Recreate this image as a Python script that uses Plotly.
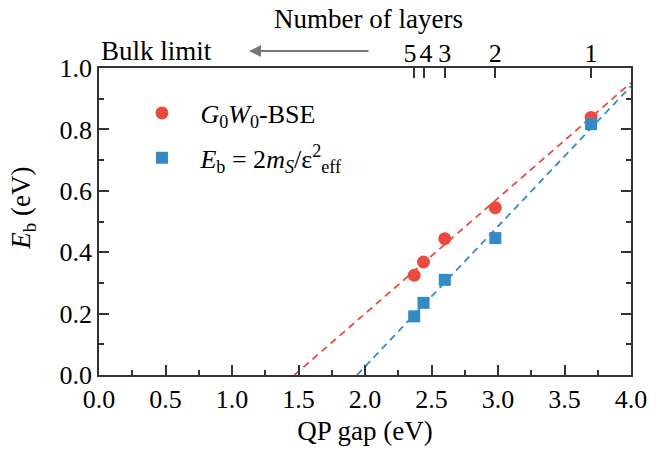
import plotly.graph_objects as go

# Quasiparticle gaps (eV) for 1-5 layers
qp_gap = [2.37, 2.44, 2.60, 2.98, 3.70]
layers = ["5", "4", "3", "2", "1"]

# Exciton binding energies (eV)
eb_bse = [0.325, 0.368, 0.444, 0.545, 0.839]
eb_model = [0.191, 0.235, 0.310, 0.446, 0.817]

# Linear trends extrapolated to zero binding energy
bse_fit_x = [1.469, 4.0]
bse_fit_y = [0.0, 0.952]
model_fit_x = [1.94, 4.0]
model_fit_y = [0.0, 0.941]

RED = "#EA4B3F"
BLUE = "#328BC4"
AXIS = "#333333"
FONT = "Times New Roman, Liberation Serif, serif"

fig = go.Figure()

fig.add_trace(go.Scatter(x=bse_fit_x, y=bse_fit_y, mode="lines",
                         line=dict(color=RED, width=1.8, dash="7px,5px"),
                         showlegend=False, hoverinfo="skip"))
fig.add_trace(go.Scatter(x=model_fit_x, y=model_fit_y, mode="lines",
                         line=dict(color=BLUE, width=1.8, dash="7px,5px"),
                         showlegend=False, hoverinfo="skip"))

fig.add_trace(go.Scatter(x=qp_gap, y=eb_bse, mode="markers",
                         marker=dict(symbol="circle", size=13, color=RED),
                         name="<i>G</i><sub>0</sub><i>W</i><sub>0</sub>-BSE",
                         legendgroup="a"))
fig.add_trace(go.Scatter(x=qp_gap, y=eb_model, mode="markers",
                         marker=dict(symbol="square", size=12, color=BLUE),
                         name="<i>E</i><sub>b</sub> = 2<i>m</i><sub><i>S</i></sub>/ε<sup>2</sup><sub>eff</sub>",
                         legendgroup="b"))

# carrier for the layer-number axis on top
fig.add_trace(go.Scatter(x=qp_gap, y=eb_bse, xaxis="x2", mode="markers",
                         marker=dict(opacity=0), showlegend=False, hoverinfo="skip"))

tick_font = dict(family=FONT, size=26, color="black")
top_labels = [layers[0] + "\u2004", "\u2009" + layers[1]] + layers[2:]

fig.update_layout(
    width=659, height=453,
    margin=dict(l=99, r=18, t=68, b=75),
    paper_bgcolor="white", plot_bgcolor="white",
    font=dict(family=FONT, size=26, color="black"),
    xaxis=dict(range=[0, 4], tick0=0, dtick=0.5, tickformat=".1f",
               ticks="inside", ticklen=10, tickwidth=1.5, tickcolor=AXIS,
               minor=dict(dtick=0.25, ticks="inside", ticklen=5, tickcolor=AXIS, tickwidth=1.5),
               showline=True, linecolor=AXIS, linewidth=1.5, mirror=True,
               showgrid=False, zeroline=False, tickfont=tick_font, tickangle=0,
               title=dict(text="QP gap (eV)", font=dict(family=FONT, size=27), standoff=8)),
    xaxis2=dict(overlaying="x", side="top", range=[0, 4], tickmode="array",
                tickvals=qp_gap, ticktext=top_labels,
                ticks="inside", ticklen=10, tickwidth=1.5, tickcolor=AXIS, tickangle=0,
                showline=False, showgrid=False, zeroline=False, tickfont=tick_font),
    yaxis=dict(range=[0, 1], tick0=0, dtick=0.2, tickformat=".1f",
               ticks="inside", ticklen=10, tickwidth=1.5, tickcolor=AXIS,
               minor=dict(dtick=0.1, ticks="inside", ticklen=5, tickcolor=AXIS, tickwidth=1.5),
               showline=True, linecolor=AXIS, linewidth=1.5, mirror="ticks",
               showgrid=False, zeroline=False, tickfont=tick_font),
    legend=dict(x=0.046, y=0.93, xanchor="left", yanchor="top",
                bgcolor="rgba(0,0,0,0)", itemwidth=67, tracegroupgap=8,
                font=dict(family=FONT, size=26)),
    showlegend=True,
)

# axis titles placed as annotations
fig.add_annotation(text="Number of layers", xref="paper", yref="paper", x=0.507, y=1.159,
                   xanchor="center", yanchor="middle", showarrow=False,
                   font=dict(family=FONT, size=27))
fig.add_annotation(text="<i>E</i><sub>b</sub> (eV)", xref="paper", yref="paper",
                   x=-0.142, y=0.543, textangle=-90, xanchor="center", yanchor="middle",
                   showarrow=False, font=dict(family=FONT, size=27))

fig.add_annotation(text="Bulk limit", xref="paper", yref="paper", x=0, y=1.055,
                   xanchor="left", yanchor="middle", showarrow=False,
                   font=dict(family=FONT, size=27))
fig.add_annotation(text="", xref="paper", yref="paper", x=0.282, y=1.055,
                   ax=121, ay=0, showarrow=True, arrowhead=2, arrowsize=1.2,
                   arrowwidth=2, arrowcolor="#777777")

fig.write_html("out.html")
